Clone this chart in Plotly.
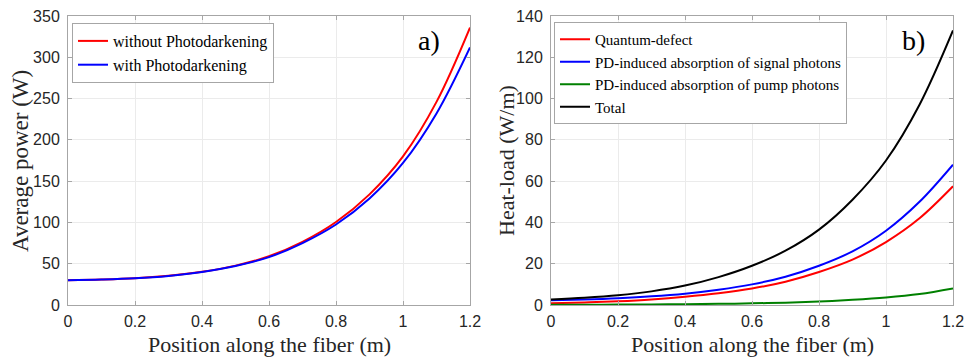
import plotly.graph_objects as go

# ---- data ----
pos = [0.0, 0.1, 0.2, 0.3, 0.4, 0.5, 0.6, 0.7, 0.8, 0.9, 1.0, 1.1, 1.2]
p_without = [30, 30.8, 32.3, 35.3, 40.2, 47.7, 59, 76.5, 100.5, 134, 180, 246, 336]
p_with = [30, 30.8, 32.3, 35.2, 40.0, 47.3, 58, 75, 97.5, 129, 172, 232, 312]

hl_qd = [0.8, 1.2, 1.8, 2.7, 4.0, 5.7, 8.0, 11.3, 16.0, 22.0, 30.5, 42.0, 57.5]
hl_signal = [2.3, 2.7, 3.3, 4.2, 5.5, 7.4, 10.0, 13.7, 19.0, 26.0, 36.0, 50.0, 68.0]
hl_pump = [0.1, 0.15, 0.2, 0.3, 0.4, 0.55, 0.8, 1.15, 1.7, 2.5, 3.6, 5.3, 8.0]
hl_total = [2.7, 3.5, 4.7, 6.6, 9.4, 13.5, 19.0, 26.3, 36.5, 51.0, 70.0, 97.0, 133.0]

x_ticks = [0, 0.2, 0.4, 0.6, 0.8, 1.0, 1.2]
x_ticklabels = ["0", "0.2", "0.4", "0.6", "0.8", "1", "1.2"]
y1_ticks = [0, 50, 100, 150, 200, 250, 300, 350]
y2_ticks = [0, 20, 40, 60, 80, 100, 120, 140]

serif = "Liberation Serif, Times New Roman, serif"
sans = "Liberation Sans, Arial, sans-serif"
title_col = "#262626"
axis_col = "#a6a6a6"

fig = go.Figure()
lw = 2
fig.add_trace(go.Scatter(x=pos, y=p_without, mode="lines", line=dict(color="#ff0000", width=lw, shape="spline"),
                         name="without Photodarkening", xaxis="x", yaxis="y", legend="legend"))
fig.add_trace(go.Scatter(x=pos, y=p_with, mode="lines", line=dict(color="#0000ff", width=lw, shape="spline"),
                         name="with Photodarkening", xaxis="x", yaxis="y", legend="legend"))

for name, vals, col in [("Quantum-defect", hl_qd, "#ff0000"),
                        ("PD-induced absorption of signal photons", hl_signal, "#0000ff"),
                        ("PD-induced absorption of pump photons", hl_pump, "#008000"),
                        ("Total", hl_total, "#000000")]:
    fig.add_trace(go.Scatter(x=pos, y=vals, mode="lines", line=dict(color=col, width=lw, shape="spline"),
                             name=name, xaxis="x2", yaxis="y2", legend="legend2"))

ydom = [1 - 305 / 360, 1 - 16 / 360]
common_x = dict(range=[0, 1.2], tickvals=x_ticks, ticktext=x_ticklabels, showgrid=True, gridcolor="#ebebeb",
                showline=True, linecolor=axis_col, linewidth=1, mirror="ticks", ticks="inside", ticklen=4,
                tickcolor=axis_col, zeroline=False, ticklabelstandoff=2, automargin=False,
                tickfont=dict(family=sans, size=16, color=title_col))
common_y = dict(showgrid=True, gridcolor="#ebebeb", showline=True, linecolor=axis_col, linewidth=1,
                mirror="ticks", ticks="inside", ticklen=4, tickcolor=axis_col, zeroline=False,
                ticklabelstandoff=4, automargin=False,
                tickfont=dict(family=sans, size=16, color=title_col))


def ann(text, x, y, size, color, angle=0):
    return dict(text=text, x=x / 965, y=1 - y / 360, xref="paper", yref="paper", showarrow=False,
                xanchor="center", yanchor="middle", textangle=angle,
                font=dict(family=serif, size=size, color=color))


fig.update_layout(
    width=965, height=360, autosize=False,
    margin=dict(l=0, r=0, t=0, b=0, autoexpand=False),
    paper_bgcolor="white", plot_bgcolor="white",
    xaxis=dict(domain=[68 / 965, 470 / 965], anchor="y", **common_x),
    xaxis2=dict(domain=[551 / 965, 953 / 965], anchor="y2", **common_x),
    yaxis=dict(domain=ydom, anchor="x", range=[0, 350], tickvals=y1_ticks, **common_y),
    yaxis2=dict(domain=ydom, anchor="x2", range=[0, 140], tickvals=y2_ticks, **common_y),
    legend=dict(x=72 / 965, y=1 - 23 / 360, xanchor="left", yanchor="top", bgcolor="white",
                bordercolor=axis_col, borderwidth=1, font=dict(family=serif, size=16, color="#000000"),
                tracegroupgap=0, itemwidth=30, traceorder="normal"),
    legend2=dict(x=554 / 965, y=1 - 22 / 360, xanchor="left", yanchor="top", bgcolor="white",
                 bordercolor=axis_col, borderwidth=1, font=dict(family=serif, size=15, color="#000000"),
                 tracegroupgap=0, itemwidth=30, traceorder="normal"),
    showlegend=True,
    annotations=[
        ann("a)", 429, 40, 28, "#000000"),
        ann("b)", 913, 40, 28, "#000000"),
        ann("Position along the fiber (m)", 269, 344, 22, title_col),
        ann("Position along the fiber (m)", 752, 344, 22, title_col),
        ann("Average power (W)", 20, 161, 23, title_col, -90),
        ann("Heat-load (W/m)", 506, 161, 22, title_col, -90),
    ],
)

fig.write_html("out.html", config={"displayModeBar": False},
               post_script="document.body.style.margin='0px';document.body.style.overflow='hidden';")
